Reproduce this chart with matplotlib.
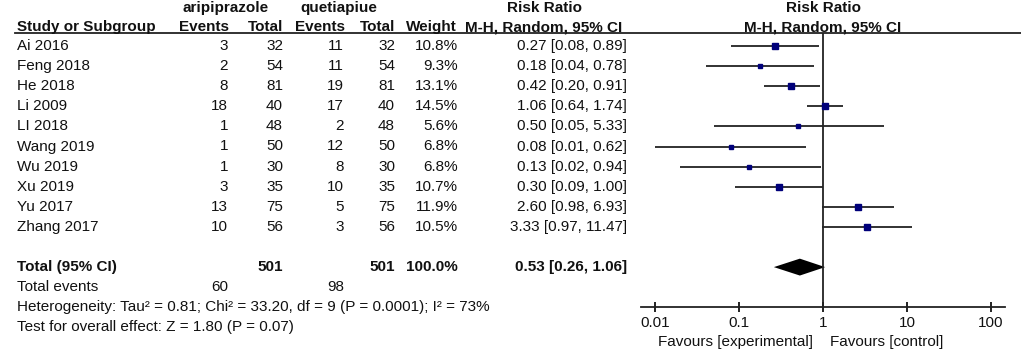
import numpy as np
import matplotlib.pyplot as plt

plt.rcParams['font.family'] = ['Liberation Sans', 'DejaVu Sans']

# study data
studies = ["Ai 2016", "Feng 2018", "He 2018", "Li 2009", "LI 2018",
           "Wang 2019", "Wu 2019", "Xu 2019", "Yu 2017", "Zhang 2017"]
events_a = [3, 2, 8, 18, 1, 1, 1, 3, 13, 10]
total_a = [32, 54, 81, 40, 48, 50, 30, 35, 75, 56]
events_q = [11, 11, 19, 17, 2, 12, 8, 10, 5, 3]
total_q = [32, 54, 81, 40, 48, 50, 30, 35, 75, 56]
weights = [10.8, 9.3, 13.1, 14.5, 5.6, 6.8, 6.8, 10.7, 11.9, 10.5]
rr = [0.27, 0.18, 0.42, 1.06, 0.50, 0.08, 0.13, 0.30, 2.60, 3.33]
rr_lo = [0.08, 0.04, 0.20, 0.64, 0.05, 0.01, 0.02, 0.09, 0.98, 0.97]
rr_hi = [0.89, 0.78, 0.91, 1.74, 5.33, 0.62, 0.94, 1.00, 6.93, 11.47]

# pooled result
tot_a, tot_q = 501, 501
tot_events_a, tot_events_q = 60, 98
pooled = 0.53
pooled_lo, pooled_hi = 0.26, 1.06

xticks = [0.01, 0.1, 1, 10, 100]
xticklabels = ["0.01", "0.1", "1", "10", "100"]

W, H = 1021, 354
row_px, y0 = 20.1, 46.0   # pixel layout of the table rows


def row(px):
    return (px - y0) / row_px


fig = plt.figure(figsize=(W / 100, H / 100), dpi=100)

# text layer over the whole figure, x in pixels, y in row units
tx = fig.add_axes([0, 0, 1, 1])
tx.set_xlim(0, W)
tx.set_ylim(row(H), row(0))
tx.axis("off")

fs = 11
kw = dict(fontsize=fs, va="center", color="#111111")
bkw = dict(kw, fontweight="bold")

# headers
tx.text(226, row(8), "aripiprazole", ha="center", **bkw)
tx.text(339, row(8), "quetiapiue", ha="center", **bkw)
tx.text(544, row(8), "Risk Ratio", ha="center", **bkw)
tx.text(823, row(8), "Risk Ratio", ha="center", **bkw)
hy = row(27)
tx.text(17, hy, "Study or Subgroup", ha="left", **bkw)
tx.text(229, hy, "Events", ha="right", **bkw)
tx.text(283, hy, "Total", ha="right", **bkw)
tx.text(345, hy, "Events", ha="right", **bkw)
tx.text(395, hy, "Total", ha="right", **bkw)
tx.text(457, hy, "Weight", ha="right", **bkw)
tx.text(544, hy, "M-H, Random, 95% CI", ha="center", **bkw)
tx.text(823, hy, "M-H, Random, 95% CI", ha="center", **bkw)
tx.plot([15, W], [row(33), row(33)], color="#222222", lw=1.3)

for i, s in enumerate(studies):
    tx.text(17, i, s, ha="left", **kw)
    tx.text(228, i, str(events_a[i]), ha="right", **kw)
    tx.text(283, i, str(total_a[i]), ha="right", **kw)
    tx.text(344, i, str(events_q[i]), ha="right", **kw)
    tx.text(395, i, str(total_q[i]), ha="right", **kw)
    tx.text(458, i, "{:.1f}%".format(weights[i]), ha="right", **kw)
    tx.text(627, i, "{:.2f} [{:.2f}, {:.2f}]".format(rr[i], rr_lo[i], rr_hi[i]),
            ha="right", **kw)

ty = len(studies) + 1
tx.text(17, ty, "Total (95% CI)", ha="left", **bkw)
tx.text(283, ty, str(tot_a), ha="right", **bkw)
tx.text(395, ty, str(tot_q), ha="right", **bkw)
tx.text(458, ty, "100.0%", ha="right", **bkw)
tx.text(627, ty, "{:.2f} [{:.2f}, {:.2f}]".format(pooled, pooled_lo, pooled_hi),
        ha="right", **bkw)
tx.text(17, ty + 1, "Total events", ha="left", **kw)
tx.text(228, ty + 1, str(tot_events_a), ha="right", **kw)
tx.text(344, ty + 1, str(tot_events_q), ha="right", **kw)
tx.text(17, ty + 2, "Heterogeneity: Tau\u00b2 = 0.81; Chi\u00b2 = 33.20, df = 9 "
        "(P = 0.0001); I\u00b2 = 73%", ha="left", **kw)
tx.text(17, ty + 3, "Test for overall effect: Z = 1.80 (P = 0.07)", ha="left", **kw)

tx.text(813, row(342), "Favours [experimental]", ha="right", **kw)
tx.text(830, row(342), "Favours [control]", ha="left", **kw)

# forest plot axes
ax_l, ax_r, ax_t, ax_b = 641, 1005, 33, 307
ax = fig.add_axes([ax_l / W, (H - ax_b) / H, (ax_r - ax_l) / W, (ax_b - ax_t) / H])
ax.patch.set_alpha(0)
ax.set_xscale("log")
half = (ax_r - ax_l) / 2 / 84.0
ax.set_xlim(10 ** -half, 10 ** half)
ax.set_ylim(row(ax_b), row(ax_t))
for side in ["top", "left", "right"]:
    ax.spines[side].set_visible(False)
ax.spines["bottom"].set_linewidth(1.3)
ax.spines["bottom"].set_color("#222222")
ax.set_yticks([])
ax.set_xticks(xticks)
ax.set_xticklabels(xticklabels)
ax.minorticks_off()
ax.tick_params(axis="x", direction="inout", length=7, width=1.3,
               labelsize=fs, pad=3, colors="#111111")

ax.axvline(1, color="#222222", lw=1.3)

ys = np.arange(len(studies))
ax.hlines(ys, rr_lo, rr_hi, color="#222222", lw=1.3)
sizes = [4.3 * np.sqrt(w / 14.5) for w in weights]
for i in range(len(studies)):
    ax.plot(rr[i], ys[i], marker="s", ms=sizes[i], color="#00007a", mec="#00007a",
            ls="none")

dh = 0.42
ax.fill([pooled_lo, pooled, pooled_hi, pooled], [ty, ty - dh, ty, ty + dh],
        color="black", lw=0)

fig.savefig("out.png", dpi=100)
